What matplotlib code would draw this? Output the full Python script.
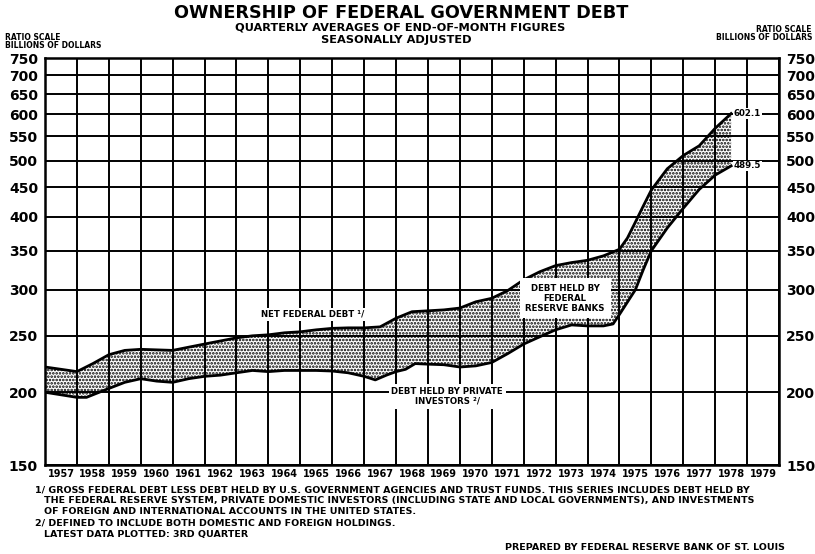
import numpy as np
import matplotlib
matplotlib.use("Agg")
import matplotlib.pyplot as plt
from matplotlib.ticker import NullLocator, FixedLocator

plt.rcParams['font.family'] = ['DejaVu Sans']
plt.rcParams['hatch.linewidth'] = 1.25
plt.rcParams['hatch.color'] = 'black'

# Net federal debt (upper line), billions of dollars
net_years = [1957.0, 1957.5, 1958.0, 1958.5, 1959.0, 1959.5, 1960.0, 1960.5, 1961.0, 1961.5,
             1962.0, 1962.5, 1963.0, 1963.5, 1964.0, 1964.5, 1965.0, 1965.5, 1966.0, 1966.5,
             1967.0, 1967.5, 1968.0, 1968.5, 1969.0, 1969.5, 1970.0, 1970.5, 1971.0, 1971.5,
             1972.0, 1972.5, 1973.0, 1973.5, 1974.0, 1974.5, 1975.0, 1975.25, 1975.5, 1975.75,
             1976.0, 1976.5, 1977.0, 1977.5, 1978.0, 1978.5]
net_debt = [221, 219, 217, 224, 232, 236, 237, 236.5, 236, 239,
            242, 245, 248, 250, 251, 253, 254, 256, 257.5, 258,
            258, 259, 268, 275, 276, 277, 279, 286, 290, 299,
            312, 322, 330, 334, 337, 343, 352, 368, 392, 418,
            445, 484, 510, 530, 568, 602.1]

# Debt held by private investors (lower line)
priv_years = [1957.0, 1957.5, 1958.0, 1958.3, 1958.6, 1959.0, 1959.5, 1960.0, 1960.5, 1961.0,
              1961.5, 1962.0, 1962.5, 1963.0, 1963.5, 1964.0, 1964.5, 1965.0, 1965.5, 1966.0,
              1966.5, 1967.0, 1967.35, 1967.7, 1968.0, 1968.3, 1968.6, 1969.0, 1969.5, 1970.0,
              1970.5, 1971.0, 1971.5, 1972.0, 1972.5, 1973.0, 1973.5, 1974.0, 1974.5, 1974.8,
              1975.0, 1975.5, 1975.75, 1976.0, 1976.5, 1977.0, 1977.5, 1978.0, 1978.5]
priv_debt = [200, 198, 196, 196, 199, 203, 208, 211, 209, 208,
             211, 213, 214, 216, 218, 217, 218, 218, 218, 217.5,
             216, 213, 210, 214, 217, 219, 224, 223.5, 223, 221,
             222, 225, 233, 242, 249, 256, 261, 260, 260, 262,
             272, 300, 325, 350, 383, 414, 446, 472, 489.5]

y_ticks = [150, 200, 250, 300, 350, 400, 450, 500, 550, 600, 650, 700, 750]
years = list(range(1957, 1980))

fig = plt.figure(figsize=(8.15, 5.54), dpi=100)
ax = fig.add_axes([45 / 815, 1 - 465 / 554, 734 / 815, 407 / 554])

ax.set_yscale('log')
ax.set_ylim(150, 750)
ax.set_xlim(1957, 1980)

# grid
ax.yaxis.set_major_locator(FixedLocator(y_ticks))
ax.yaxis.set_minor_locator(NullLocator())
ax.set_yticklabels([str(v) for v in y_ticks])
ax.xaxis.set_major_locator(FixedLocator(years + [1980]))
ax.xaxis.set_minor_locator(FixedLocator([y + 0.5 for y in years]))
ax.set_xticklabels([], minor=False)
ax.set_xticklabels([str(y) for y in years], minor=True)
ax.grid(True, which='major', color='black', lw=1.4, zorder=1)
ax.set_axisbelow(True)
ax.tick_params(axis='x', which='both', length=0, pad=3)
ax.tick_params(axis='x', which='minor', labelsize=7)
for lab in ax.get_xticklabels(minor=True):
    lab.set_fontweight('bold')
ax.tick_params(axis='y', which='both', length=0, labelleft=True, labelright=True,
               labelsize=10, pad=5)
for lab in ax.get_yticklabels():
    lab.set_fontweight('bold')
for s in ax.spines.values():
    s.set_linewidth(1.8)

# stippled band between the two series
poly_x = np.concatenate([net_years, priv_years[::-1]])
poly_y = np.concatenate([net_debt, priv_debt[::-1]])
ax.fill(poly_x, poly_y, facecolor='none', edgecolor='black', lw=0, hatch='.....', zorder=2)
ax.plot(net_years, net_debt, color='black', lw=2, zorder=4)
ax.plot(priv_years, priv_debt, color='black', lw=2, zorder=4)

lbl = dict(fontsize=6.2, fontweight='bold', zorder=5)
ax.text(1965.4, 272, 'NET FEDERAL DEBT \u00b9/', ha='center', va='center',
        bbox=dict(facecolor='white', edgecolor='none', pad=1.5), **lbl)
ax.annotate('DEBT HELD BY PRIVATE\nINVESTORS \u00b2/', xy=(1969.6, 200), xytext=(0, 4),
            textcoords='offset points', ha='center', va='top', linespacing=1.15,
            bbox=dict(facecolor='white', edgecolor='none', pad=2), **lbl)
ax.text(1973.3, 290, 'DEBT HELD BY\nFEDERAL\nRESERVE BANKS', ha='center',
        va='center', linespacing=1.15,
        bbox=dict(facecolor='white', edgecolor='none', pad=4), **lbl)
ax.annotate('602.1', xy=(net_years[-1], net_debt[-1]), xytext=(2, 0), textcoords='offset points',
            va='center', ha='left', bbox=dict(facecolor='white', edgecolor='none', pad=0.5), **lbl)
ax.annotate('489.5', xy=(priv_years[-1], priv_debt[-1]), xytext=(2, 0), textcoords='offset points',
            va='center', ha='left', bbox=dict(facecolor='white', edgecolor='none', pad=0.5), **lbl)

# titles
fig.text(401 / 815, 1 - 13 / 554, 'OWNERSHIP OF FEDERAL GOVERNMENT DEBT', fontsize=12.7,
         fontweight='bold', ha='center', va='center')
fig.text(400 / 815, 1 - 27 / 554, 'QUARTERLY AVERAGES OF END-OF-MONTH FIGURES', fontsize=8.2,
         fontweight='bold', ha='center', va='center')
fig.text(396 / 815, 1 - 40 / 554, 'SEASONALLY ADJUSTED', fontsize=8.2,
         fontweight='bold', ha='center', va='center')
fig.text(5 / 815, 1 - 37 / 554, 'RATIO SCALE', fontsize=5.5, fontweight='bold', va='center')
fig.text(5 / 815, 1 - 45 / 554, 'BILLIONS OF DOLLARS', fontsize=5.5, fontweight='bold', va='center')
fig.text(812 / 815, 1 - 30 / 554, 'RATIO SCALE', fontsize=5.5, fontweight='bold', va='center',
         ha='right')
fig.text(812 / 815, 1 - 38 / 554, 'BILLIONS OF DOLLARS', fontsize=5.5, fontweight='bold',
         va='center', ha='right')

# footnotes
notes = [
    (35, 490, '1/ GROSS FEDERAL DEBT LESS DEBT HELD BY U.S. GOVERNMENT AGENCIES AND TRUST FUNDS. '
              'THIS SERIES INCLUDES DEBT HELD BY'),
    (44, 501, 'THE FEDERAL RESERVE SYSTEM, PRIVATE DOMESTIC INVESTORS (INCLUDING STATE AND LOCAL '
              'GOVERNMENTS), AND INVESTMENTS'),
    (44, 512, 'OF FOREIGN AND INTERNATIONAL ACCOUNTS IN THE UNITED STATES.'),
    (35, 523, '2/ DEFINED TO INCLUDE BOTH DOMESTIC AND FOREIGN HOLDINGS.'),
    (44, 535, 'LATEST DATA PLOTTED: 3RD QUARTER'),
]
for x, y, t in notes:
    fig.text(x / 815, 1 - y / 554, t, fontsize=6.8, fontweight='bold', va='center')
fig.text(785 / 815, 1 - 548 / 554, 'PREPARED BY FEDERAL RESERVE BANK OF ST. LOUIS', fontsize=6.8,
         fontweight='bold', va='center', ha='right')

fig.savefig('out.png', dpi=100)
